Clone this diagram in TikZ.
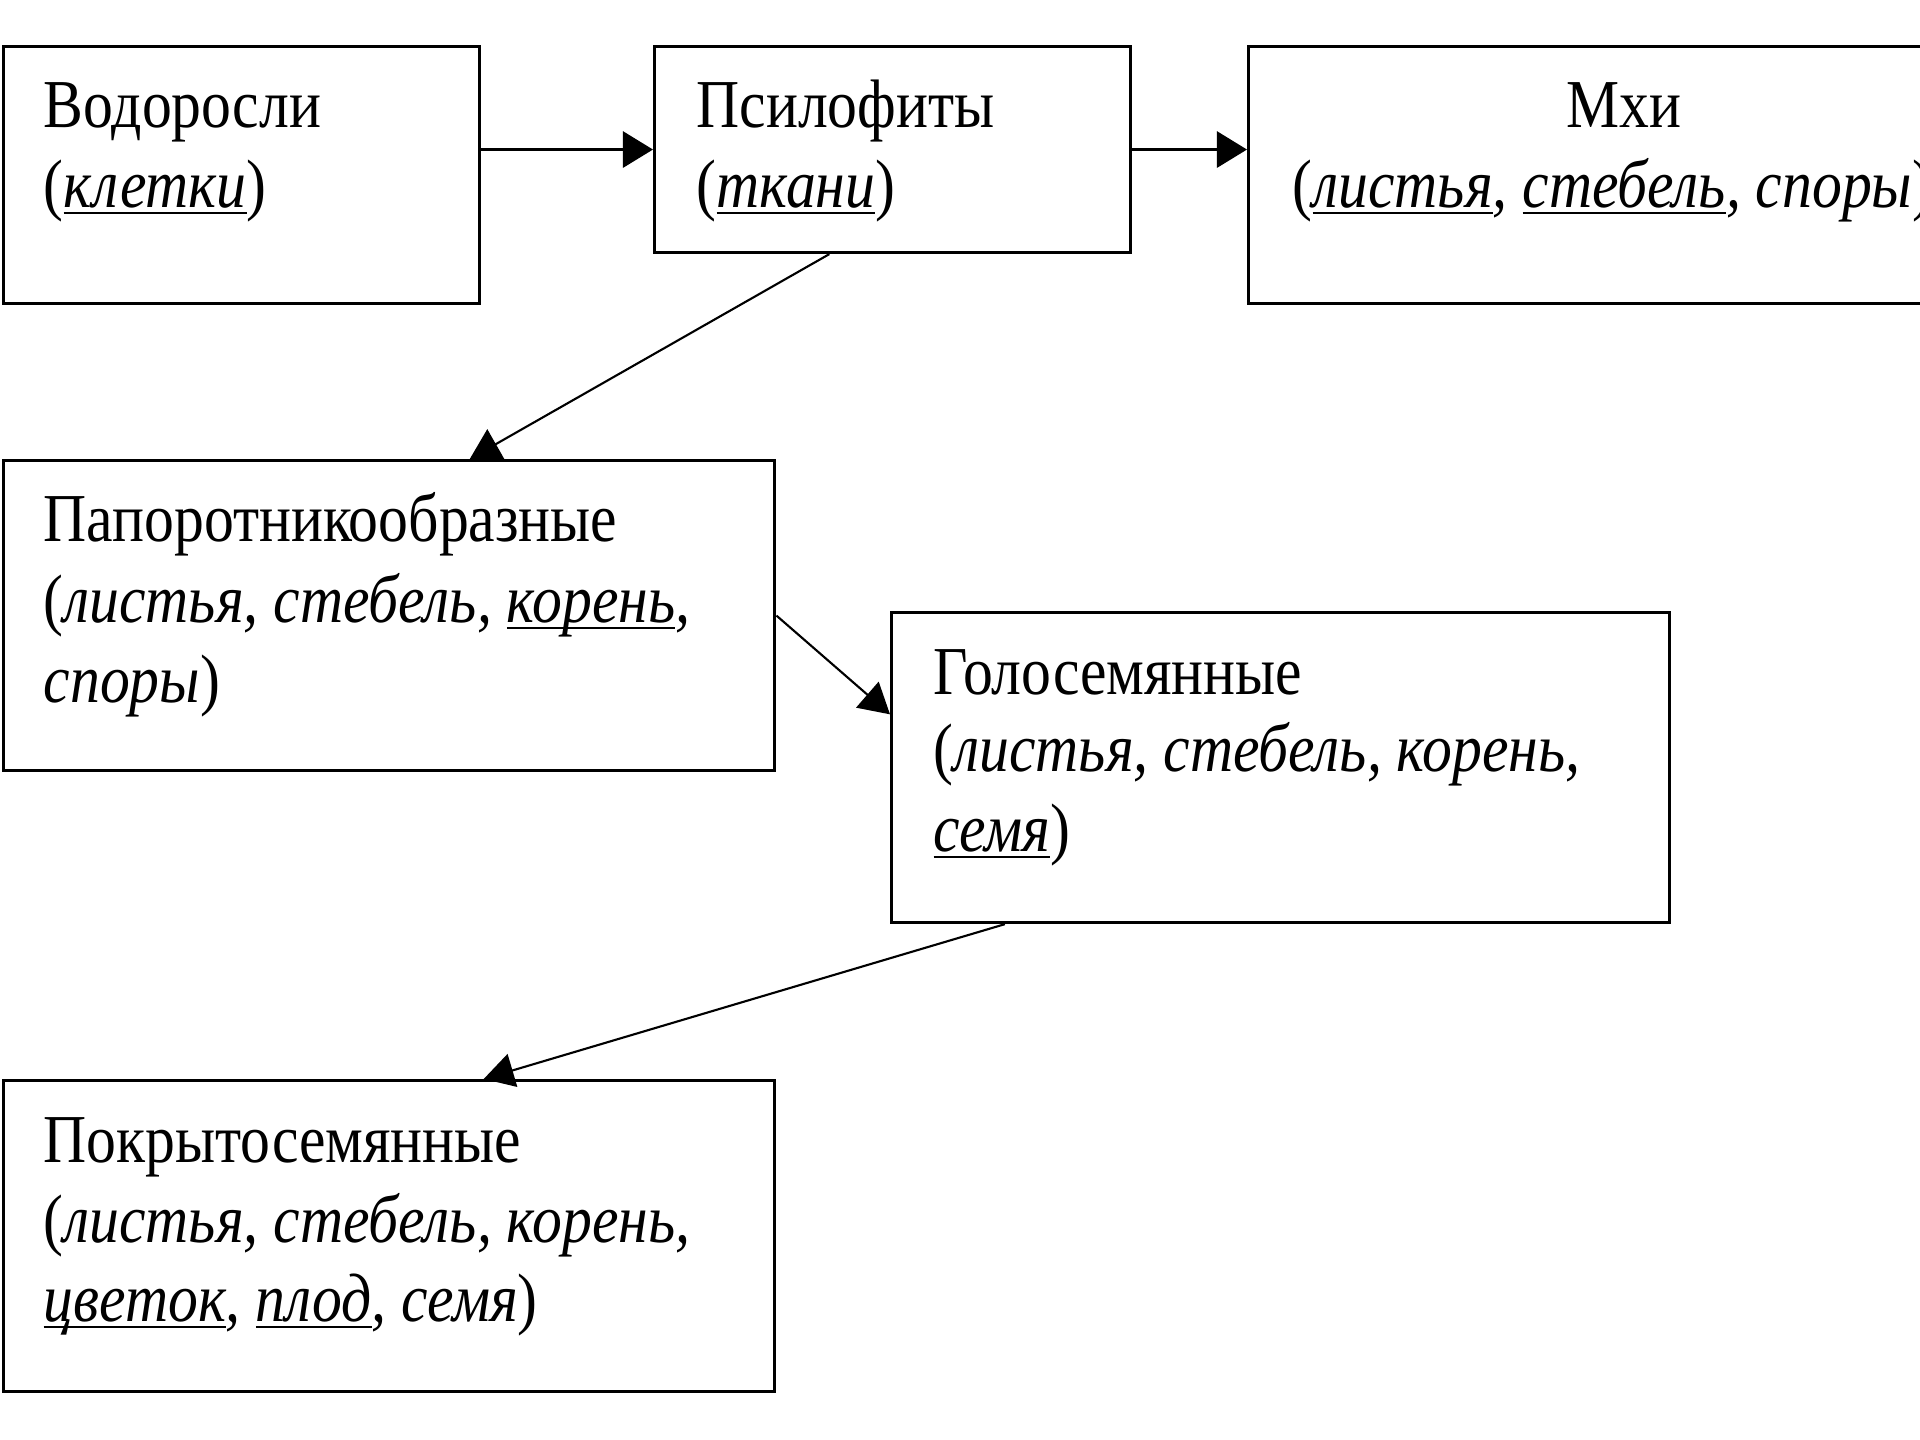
\documentclass[tikz,border=0pt]{standalone}
\usepackage{fontspec}
\setmainfont{Liberation Serif}[FakeStretch=0.87]
\usetikzlibrary{arrows.meta,calc}
\newcommand\ulw[1]{\underline{\smash{#1}}}
\begin{document}
\begin{tikzpicture}[x=0.01cm,y=-0.01cm,
  box/.style={draw, line width=0.85pt, rectangle, inner sep=0pt, anchor=north west},
  lbl/.style={anchor=base west, inner sep=0pt, font=\fontsize{19.5}{23}\selectfont},
  con/.style={line width=0.8pt, -{Triangle[length=0.3cm,width=0.36cm]}},
  dcon/.style={line width=0.6pt, -{Triangle[length=0.3cm,width=0.34cm]}}]
\useasboundingbox (0,0) rectangle (1920,1440);
\clip (0,0) rectangle (1920,1440);
\fill[white] (0,0) rectangle (1920,1440);

% boxes
\node[box, minimum width=4.76cm, minimum height=2.57cm] (vod) at (2,45) {};
\node[box, minimum width=4.76cm, minimum height=2.06cm] (psi) at (653,45) {};
\node[box, minimum width=7.54cm, minimum height=2.57cm] (mhi) at (1247,45) {};
\node[box, minimum width=7.71cm, minimum height=3.10cm] (pap) at (2,459) {};
\node[box, minimum width=7.78cm, minimum height=3.10cm] (gol) at (890,611) {};
\node[box, minimum width=7.71cm, minimum height=3.11cm] (pok) at (2,1079) {};

% texts
\node[lbl] (vod1) at (43,128) {Водоросли};
\node[lbl] (vod2) at (43,208) {(\textit{\ulw{клетки}})};

\node[lbl] (psi1) at (696,128) {Псилофиты};
\node[lbl] (psi2) at (696,208) {(\textit{\ulw{ткани}})};

\node[lbl, anchor=base] (mhi1) at (1624,128) {Мхи};
\node[lbl] (mhi2) at (1292,208) {(\textit{\ulw{листья}, \ulw{стебель}, споры})};

\node[lbl] (pap1) at (43,542) {Папоротникообразные};
\node[lbl] (pap2) at (43,623) {(\textit{листья, стебель, \ulw{корень},}};
\node[lbl] (pap3) at (43,703) {\textit{споры})};

\node[lbl] (gol1) at (933,695) {Голосемянные};
\node[lbl] (gol2) at (933,772) {(\textit{листья, стебель, корень,}};
\node[lbl] (gol3) at (933,852) {\textit{\ulw{семя}})};

\node[lbl] (pok1) at (43,1163) {Покрытосемянные};
\node[lbl] (pok2) at (43,1243) {(\textit{листья, стебель, корень,}};
\node[lbl] (pok3) at (43,1322) {\textit{\ulw{цветок}, \ulw{плод}, семя})};

% connectors
\draw[con] (vod.east |- psi.west) -- (psi.west);
\draw[con] (psi.east) -- (psi.east -| mhi.west);
\draw[dcon] ($(psi.south west)!0.368!(psi.south east)$) -- ($(pap.north west)!0.604!(pap.north east)$);
\draw[dcon] (pap.east) -- ($(gol.north west)!0.33!(gol.south west)$);
\draw[dcon] ($(gol.south west)!0.147!(gol.south east)$) -- ($(pok.north west)!0.622!(pok.north east)$);
\end{tikzpicture}
\end{document}
